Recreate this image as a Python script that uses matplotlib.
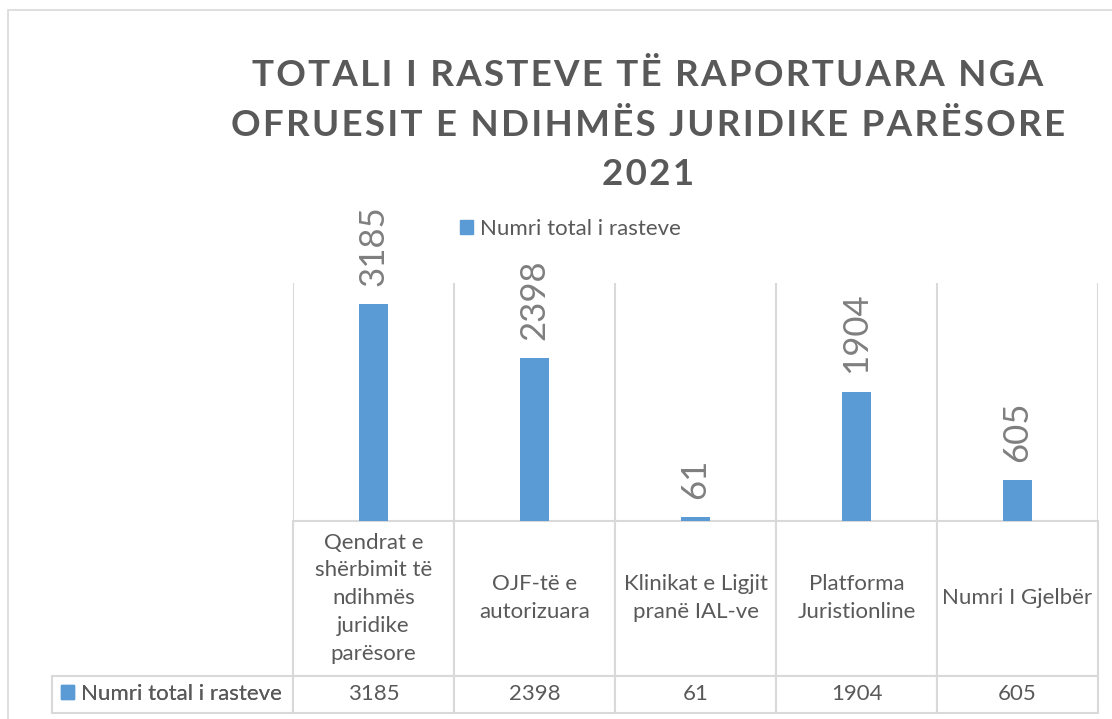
import numpy as np
import matplotlib
matplotlib.use("Agg")
import matplotlib.pyplot as plt
from matplotlib.patches import Rectangle, Patch

plt.rcParams['font.family'] = ['Lato', 'DejaVu Sans']

# data
categories = [
    "Qendrat e\nshërbimit të\nndihmës\njuridike\nparësore",
    "OJF-të e\nautorizuara",
    "Klinikat e Ligjit\npranë IAL-ve",
    "Platforma\nJuristionline",
    "Numri I Gjelbër",
]
values = [3185, 2398, 61, 1904, 605]
series_name = "Numri total i rasteve"
title_lines = ["TOTALI I RASTEVE TË RAPORTUARA NGA",
               "OFRUESIT E NDIHMËS JURIDIKE PARËSORE",
               "2021"]

bar_color = "#5B9BD5"
text_color = "#595959"
label_color = "#7F7F7F"
line_color = "#D9D9D9"

W, H = 1112, 719
fig = plt.figure(figsize=(W / 100, H / 100), dpi=100)

# chart frame (right / bottom edges run off the picture)
fig.patches.append(Rectangle((8 / W, -0.1), 1.2, 1 - 10 / H + 0.1, transform=fig.transFigure,
                             fill=False, ec=line_color, lw=1.2))

# plot area in pixels
left, right, top, base = 293, 1098, 283, 521
ax = fig.add_axes([left / W, 1 - base / H, (right - left) / W, (base - top) / H])

x = np.arange(len(values))
bars = ax.bar(x, values, width=0.185, color=bar_color, zorder=3)
ax.bar_label(bars, labels=[str(v) for v in values], rotation=90, padding=13,
             fontsize=25, color=label_color)

ax.set_xlim(-0.5, len(values) - 0.5)
ax.set_ylim(0, 3500)
ax.set_xticks([])
ax.set_yticks([])
ax.set_xticks(np.arange(len(values) + 1) - 0.5, minor=True)
ax.tick_params(which='both', length=0, labelbottom=False, labelleft=False)
ax.grid(which='minor', axis='x', color=line_color, lw=1.5)
for s in ax.spines.values():
    s.set_visible(False)

# data table below the plot
pw, ph = right - left, base - top
rl_w = (left - 52) / pw
head_h = (676 - base) / ph
row_h = (713 - 676) / ph
tbl = ax.table(cellText=[[str(v) for v in values]],
               colLabels=categories, cellLoc='center',
               colWidths=[1 / len(values)] * len(values),
               bbox=[0, -(713 - base) / ph, 1, (713 - base) / ph])
tbl.add_cell(1, -1, width=rl_w, height=row_h, text="")
tbl.auto_set_font_size(False)
tbl.set_fontsize(16)
for (r, c), cell in tbl.get_celld().items():
    cell.set_edgecolor(line_color)
    cell.set_linewidth(1.5)
    cell.get_text().set_color(text_color)
    cell.set_height(head_h if r == 0 else row_h)
    cell.set_width(rl_w if c == -1 else 1 / len(values))
    if r == 0:
        cell.get_text().set_linespacing(1.5)

# legend key inside the table's row-label cell
key = Patch(color=bar_color)
leg2 = ax.legend([key], [series_name], loc='center left', frameon=False,
                 bbox_to_anchor=((52 - left) / pw, -(694 - base) / ph),
                 handlelength=0.6, handleheight=0.6, handletextpad=0.3,
                 borderaxespad=0, fontsize=16, labelcolor=text_color)
ax.add_artist(leg2)

# top legend
fig.legend([key], [series_name], loc='center left', frameon=False,
           bbox_to_anchor=(451 / W, 1 - 229 / H), handlelength=0.6, handleheight=0.6,
           handletextpad=0.3, borderaxespad=0, fontsize=16, labelcolor=text_color)

# title, letter-spaced with hair spaces
title = "\n".join("\u200a".join(line) for line in title_lines)
fig.text(648 / W, 1 - 125 / H, title, ha='center', va='center', fontsize=26.5,
         fontweight='bold', color=text_color, linespacing=1.6)

fig.savefig("out.png", dpi=100)
